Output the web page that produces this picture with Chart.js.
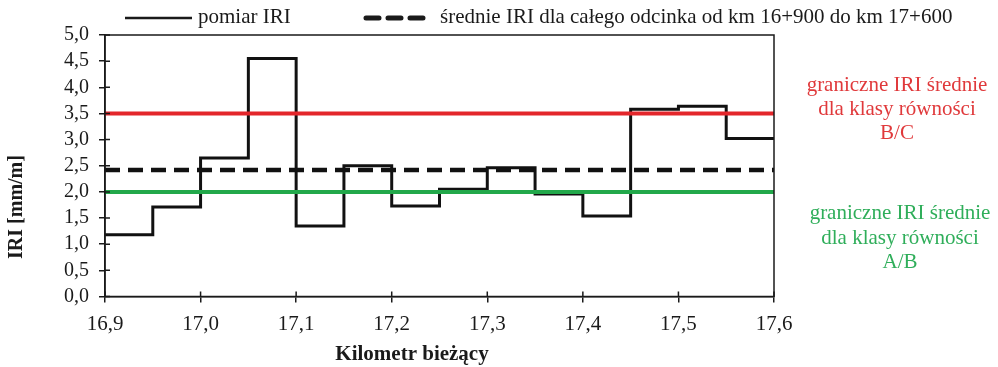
<!DOCTYPE html>
<html>
<head>
<meta charset="utf-8">
<script src="https://cdn.jsdelivr.net/npm/chart.js@4"></script>
<style>
  html, body { margin: 0; padding: 0; background: #fff; }
  #wrap { width: 998px; height: 367px; }
</style>
</head>
<body>
<div id="wrap"><canvas id="wykres" width="998" height="367"></canvas></div>
<script>
// poczatki odcinkow pomiarowych [km]
var kmStart = [16.90, 16.95, 17.00, 17.05, 17.10, 17.15, 17.20, 17.25, 17.30, 17.35, 17.40, 17.45, 17.50, 17.55];
var kmEnd = 17.60;
// pomiar IRI [mm/m]
var iri = [1.18, 1.71, 2.65, 4.55, 1.35, 2.50, 1.73, 2.05, 2.46, 1.96, 1.54, 3.58, 3.64, 3.02];
var sredniaIRI = 2.42;
var granicaBC = 3.5;
var granicaAB = 2.0;
var xTicks = [16.9, 17.0, 17.1, 17.2, 17.3, 17.4, 17.5, 17.6];
var yTicks = [0, 0.5, 1.0, 1.5, 2.0, 2.5, 3.0, 3.5, 4.0, 4.5, 5.0];

var serif = "'Liberation Serif', 'DejaVu Serif', serif";

function przecinek(v) {
    return Number(v).toFixed(1).replace(".", ",");
}

// dane schodkowe: ostatnia wartosc powtorzona na koncu odcinka
var punktyIRI = kmStart.map(function (km, i) {
    return { x: km, y: iri[i] };
});
punktyIRI.push({ x: kmEnd, y: iri[iri.length - 1] });

function linia(v) {
    return [{ x: kmStart[0], y: v }, { x: kmEnd, y: v }];
}

// ramka, znaczniki i opisy
var opisy = {
    id: "opisy",
    afterDraw: function (chart) {
        var ctx = chart.ctx;
        var a = chart.chartArea;
        var xs = chart.scales.x, ys = chart.scales.y;
        ctx.save();
        ctx.strokeStyle = "#1a1a1a";
        ctx.lineWidth = 1.5;
        ctx.strokeRect(a.left, a.top, a.right - a.left, a.bottom - a.top);
        // wewnetrzne czesci znacznikow
        ctx.beginPath();
        xTicks.forEach(function (v) {
            var px = xs.getPixelForValue(v);
            ctx.moveTo(px, a.bottom);
            ctx.lineTo(px, a.bottom - 5);
        });
        yTicks.forEach(function (v) {
            var py = ys.getPixelForValue(v);
            ctx.moveTo(a.left, py);
            ctx.lineTo(a.left + 5, py);
        });
        ctx.stroke();

        // legenda
        ctx.lineWidth = 2.5;
        ctx.beginPath();
        ctx.moveTo(125, 18);
        ctx.lineTo(192, 18);
        ctx.stroke();
        ctx.lineWidth = 5;
        ctx.lineCap = "round";
        ctx.setLineDash([13, 9]);
        ctx.beginPath();
        ctx.moveTo(366, 18);
        ctx.lineTo(424, 18);
        ctx.stroke();
        ctx.setLineDash([]);
        ctx.fillStyle = "#1a1a1a";
        ctx.font = "21px " + serif;
        ctx.textBaseline = "middle";
        ctx.textAlign = "left";
        ctx.fillText("pomiar IRI", 198, 17);
        ctx.fillText("średnie IRI dla całego odcinka od km 16+900 do km 17+600", 440, 17);

        // opisy granic
        ctx.textAlign = "center";
        ctx.fillStyle = "#e0393b";
        ctx.fillText("graniczne IRI średnie", 897, 85);
        ctx.fillText("dla klasy równości", 897, 109);
        ctx.fillText("B/C", 897, 133);
        ctx.fillStyle = "#2fae5a";
        ctx.fillText("graniczne IRI średnie", 900, 213);
        ctx.fillText("dla klasy równości", 900, 238);
        ctx.fillText("A/B", 900, 262);

        // tytuly osi
        ctx.fillStyle = "#1a1a1a";
        ctx.font = "bold 21px " + serif;
        ctx.fillText("Kilometr bieżący", 412, 355);
        ctx.font = "bold 20px " + serif;
        ctx.translate(17, 207);
        ctx.rotate(-Math.PI / 2);
        ctx.fillText("IRI [mm/m]", 0, 0);
        ctx.restore();
    }
};

new Chart(document.getElementById("wykres").getContext("2d"), {
    type: "line",
    data: {
        datasets: [
            {
                label: "graniczne IRI B/C",
                data: linia(granicaBC),
                borderColor: "#e3262b",
                borderWidth: 4,
                pointRadius: 0,
                order: 1
            },
            {
                label: "graniczne IRI A/B",
                data: linia(granicaAB),
                borderColor: "#22a84a",
                borderWidth: 4,
                pointRadius: 0,
                order: 2
            },
            {
                label: "średnie IRI",
                data: linia(sredniaIRI),
                borderColor: "#111",
                borderWidth: 4.5,
                borderDash: [15, 8],
                pointRadius: 0,
                order: 3
            },
            {
                label: "pomiar IRI",
                data: punktyIRI,
                borderColor: "#111",
                borderWidth: 3,
                stepped: "before",
                pointRadius: 0,
                order: 4
            }
        ]
    },
    options: {
        responsive: false,
        animation: false,
        layout: { padding: { top: 35, right: 224, left: 0, bottom: 0 } },
        plugins: {
            legend: { display: false },
            tooltip: { enabled: false }
        },
        scales: {
            x: {
                type: "linear",
                min: 16.9,
                max: 17.6,
                afterBuildTicks: function (s) {
                    s.ticks = xTicks.map(function (v) { return { value: v }; });
                },
                afterFit: function (s) { s.height = 70.5; },
                grid: { drawOnChartArea: false, tickLength: 6, color: "#1a1a1a", lineWidth: 1.5 },
                border: { color: "#1a1a1a", width: 1.5 },
                ticks: {
                    padding: 9,
                    autoSkip: false,
                    color: "#1a1a1a",
                    font: { family: serif, size: 21 },
                    maxRotation: 0,
                    callback: function (v) { return przecinek(v); }
                }
            },
            y: {
                min: 0,
                max: 5,
                afterBuildTicks: function (s) {
                    s.ticks = yTicks.map(function (v) { return { value: v }; });
                },
                afterFit: function (s) { s.width = 105; },
                grid: { drawOnChartArea: false, tickLength: 6, color: "#1a1a1a", lineWidth: 1.5 },
                border: { color: "#1a1a1a", width: 1.5 },
                ticks: {
                    padding: 10,
                    autoSkip: false,
                    color: "#1a1a1a",
                    font: { family: serif, size: 20 },
                    callback: function (v) { return przecinek(v); }
                }
            }
        }
    },
    plugins: [opisy]
});
</script>
</body>
</html>
